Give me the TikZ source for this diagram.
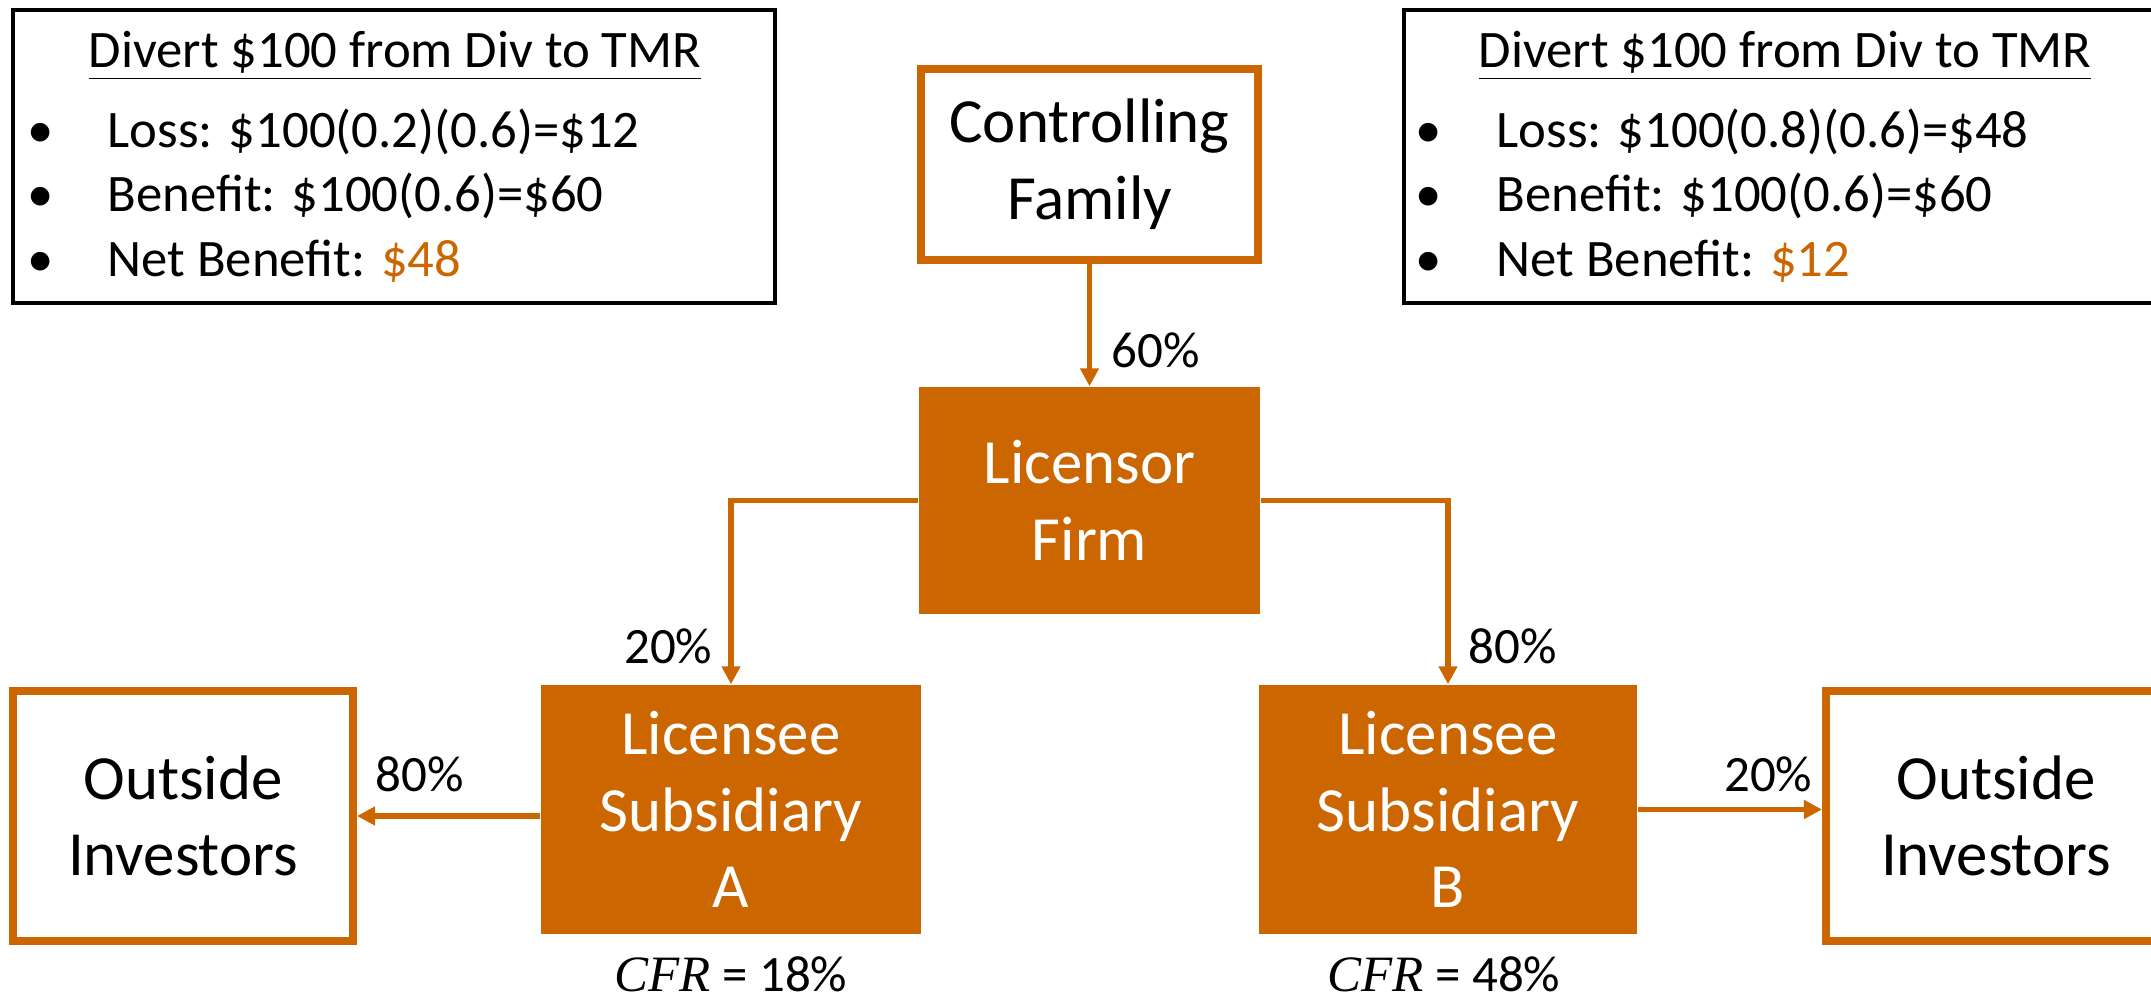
\documentclass[tikz,border=0pt]{standalone}
\usepackage{fontspec}
\setmainfont{Carlito}
\newfontfamily\cfrfont{Liberation Serif}
\usepackage{xcolor}
\usepackage{tikz}
\usetikzlibrary{arrows.meta, positioning}
\definecolor{famOrange}{RGB}{204,102,0}

\begin{document}
\begin{tikzpicture}[
    infobox/.style={draw=black, line width=1.3pt, minimum width=7.62cm, minimum height=2.93cm, inner sep=0pt},
    outlinebox/.style={draw=famOrange, line width=2.3pt, fill=white, align=center, inner sep=0pt, font=\fontsize{17.9pt}{21.8pt}\selectfont},
    solidbox/.style={fill=famOrange, text=white, align=center, inner sep=0pt, font=\fontsize{17.9pt}{21.8pt}\selectfont},
    own/.style={draw=famOrange, line width=1.55pt, -{Triangle[length=0.18cm, width=0.18cm]}},
    pct/.style={font=\fontsize{14.5pt}{17pt}\selectfont, inner sep=0pt},
    infotext/.style={font=\fontsize{15pt}{18pt}\selectfont, inner sep=0pt, anchor=base west},
]
% Page size
\useasboundingbox (0,0) rectangle (21.51,10.02);

% Info boxes (the right one runs off the page)
\node[infobox] (infoL) at (3.94,8.455) {};
\node[infobox] (infoR) at (17.85,8.455) {};

\node[infotext, anchor=base] (titleL) at (3.95,9.34) {\underline{Divert \$100 from Div to TMR}};
\node[infotext, anchor=base] (titleR) at (17.85,9.34) {\underline{Divert \$100 from Div to TMR}};

\foreach \y [count=\i] in {8.54, 7.90, 7.25} {
    \node[infotext, anchor=base] (bulL\i) at (0.41,\y) {\textbullet};
    \node[infotext, anchor=base] (bulR\i) at (14.29,\y) {\textbullet};
}

\node[infotext] (lossL) at (1.07,8.54) {Loss: \$100(0.2)(0.6)=\$12};
\node[infotext] (gainL) at (1.07,7.90) {Benefit: \$100(0.6)=\$60};
\node[infotext] (netL) at (1.07,7.25) {Net Benefit: \textcolor{famOrange}{\$48}};

\node[infotext] (lossR) at (14.96,8.54) {Loss: \$100(0.8)(0.6)=\$48};
\node[infotext] (gainR) at (14.96,7.90) {Benefit: \$100(0.6)=\$60};
\node[infotext] (netR) at (14.96,7.25) {Net Benefit: \textcolor{famOrange}{\$12}};

% Ownership chain
\node[outlinebox, minimum width=3.37cm, minimum height=1.91cm] (family) at (10.895,8.375) {Controlling\\Family};
\node[solidbox, minimum width=3.41cm, minimum height=2.27cm] (licensor) at (10.895,5.015) {Licensor\\Firm};
\node[solidbox, minimum width=3.80cm, minimum height=2.49cm] (subA) at (7.31,1.925) {Licensee\\Subsidiary\\A};
\node[solidbox, minimum width=3.78cm, minimum height=2.49cm] (subB) at (14.48,1.925) {Licensee\\Subsidiary\\B};
\node[outlinebox, minimum width=3.40cm, minimum height=2.50cm] (outL) at (1.83,1.86) {Outside\\Investors};
\node[outlinebox, minimum width=3.40cm, minimum height=2.50cm] (outR) at (19.96,1.86) {Outside\\Investors};

% Stakes
\draw[own] (family.south) -- (licensor.north);
\draw[own] (licensor.west) -| (subA.north);
\draw[own] (licensor.east) -| (subB.north);
\draw[own] (subA.west |- outL.east) -- (outL.east);
\draw[own] (subB.east) -- (subB.east -| outR.west);

\node[pct, anchor=base west] (pctFam) at (11.11,6.34) {60\%};
\node[pct, anchor=base east] (pctA) at (7.13,3.38) {20\%};
\node[pct, anchor=base west] (pctB) at (14.68,3.38) {80\%};
\node[pct, anchor=base west] (pctOutL) at (3.75,2.10) {80\%};
\node[pct, anchor=base east] (pctOutR) at (18.13,2.10) {20\%};

% Cash flow rights
\node[pct, anchor=base] (cfrA) at (7.31,0.10) {{\cfrfont\itshape CFR} = 18\%};
\node[pct, anchor=base] (cfrB) at (14.44,0.10) {{\cfrfont\itshape CFR} = 48\%};

\end{tikzpicture}
\end{document}
